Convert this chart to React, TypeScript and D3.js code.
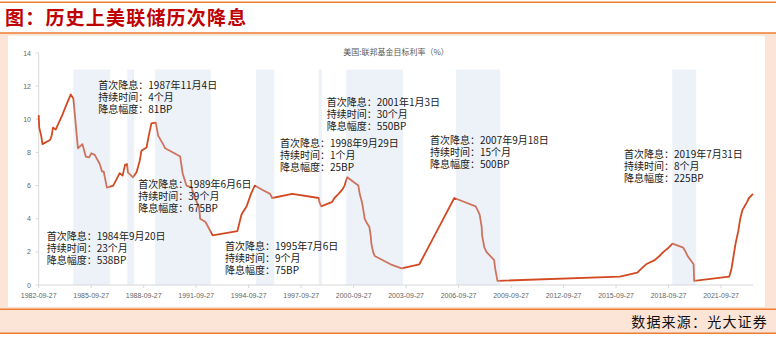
import React from "react";
import * as d3 from "d3";

// Fed funds target rate change points (date, %)
const rateDates = [
  "1982-09-27", "1982-10-08", "1982-11-19", "1982-12-14", "1983-05-20", "1983-06-24",
  "1983-07-22", "1983-09-16", "1984-02-01", "1984-05-01", "1984-07-27", "1984-09-20",
  "1984-12-24", "1985-03-28", "1985-06-06", "1985-08-15", "1985-10-01", "1985-12-10",
  "1986-03-25", "1986-05-10", "1986-06-15", "1986-08-21", "1986-12-31", "1987-05-15",
  "1987-07-15", "1987-09-04", "1987-10-15", "1987-11-04", "1988-02-15", "1988-04-30",
  "1988-07-07", "1988-08-10", "1988-11-25", "1989-01-10", "1989-03-07", "1989-06-06",
  "1989-07-27", "1989-08-28", "1989-11-06", "1989-12-20", "1990-06-01", "1990-10-29",
  "1990-12-18", "1991-03-08", "1991-06-20", "1991-08-30", "1991-11-25", "1991-12-20",
  "1992-04-09", "1992-09-04", "1994-02-04", "1994-05-01", "1994-08-16", "1994-11-15",
  "1995-02-01", "1995-07-06", "1995-12-19", "1996-01-31", "1997-03-25", "1998-09-29",
  "1998-10-15", "1998-11-17", "1999-06-30", "1999-08-24", "1999-11-16", "2000-02-02",
  "2000-03-21", "2000-05-16", "2001-01-03", "2001-01-31", "2001-03-20", "2001-04-18",
  "2001-05-15", "2001-06-27", "2001-08-21", "2001-09-17", "2001-10-02", "2001-11-06",
  "2001-12-11", "2002-11-06", "2003-06-25", "2004-06-30", "2005-06-30", "2006-06-29",
  "2007-09-18", "2007-10-31", "2007-12-11", "2008-01-22", "2008-01-30", "2008-03-18",
  "2008-04-30", "2008-10-08", "2008-10-29", "2008-12-16", "2015-12-16", "2016-12-14",
  "2017-03-15", "2017-06-14", "2017-12-13", "2018-03-21", "2018-06-13", "2018-09-26",
  "2018-12-19", "2019-07-31", "2019-09-18", "2019-10-30", "2020-03-03", "2020-03-15",
  "2022-03-16", "2022-05-04", "2022-06-15", "2022-07-27", "2022-09-21", "2022-11-02",
  "2022-12-14", "2023-02-01", "2023-03-22", "2023-05-03", "2023-07-26",
];
const rateValues = [
  10.25, 9.5, 9.0, 8.5, 8.75, 9.0,
  9.5, 9.375, 10.25, 10.9, 11.5, 11.25,
  8.25, 8.5, 7.75, 7.7, 7.95, 7.85,
  7.3, 6.85, 6.85, 5.875, 6.0, 6.75,
  6.6, 7.25, 7.3, 6.8, 6.5, 6.8,
  7.5, 8.1, 8.3, 9.0, 9.75, 9.8,
  9.0, 8.85, 8.5, 8.25, 8.0, 7.75,
  6.75, 6.0, 5.9, 5.25, 4.75, 4.0,
  3.8, 3.0, 3.25, 4.25, 4.75, 5.5,
  6.0, 5.75, 5.5, 5.25, 5.5, 5.25,
  5.0, 4.75, 5.0, 5.25, 5.5, 5.75,
  6.0, 6.5, 6.0, 5.5, 5.0, 4.5,
  4.0, 3.75, 3.5, 3.0, 2.5, 2.0,
  1.75, 1.25, 1.0, 1.25, 3.25, 5.25,
  4.75, 4.5, 4.25, 3.5, 3.0, 2.25,
  2.0, 1.5, 1.0, 0.25, 0.5, 0.75,
  1.0, 1.25, 1.5, 1.75, 2.0, 2.25,
  2.5, 2.25, 2.0, 1.75, 1.25, 0.25,
  0.5, 1.0, 1.75, 2.5, 3.25, 4.0,
  4.5, 4.75, 5.0, 5.25, 5.5,
];

// Rate-cut cycle bands
const bandStarts = ["1984-09-20", "1987-10-20", "1989-05-22", "1995-03-01", "1998-09-27", "2000-04-25", "2006-08-04", "2018-12-13"];
const bandEnds = ["1986-10-25", "1988-03-10", "1992-07-26", "1996-03-13", "1998-12-05", "2003-07-24", "2009-02-13", "2020-04-26"];
const bandTop = 13;

// Axis ticks
const xTickLabels = [
  "1982-09-27", "1985-09-27", "1988-09-27", "1991-09-27", "1994-09-27", "1997-09-27", "2000-09-27",
  "2003-09-27", "2006-09-27", "2009-09-27", "2012-09-27", "2015-09-27", "2018-09-27", "2021-09-27",
];
const yTicks = [0, 2, 4, 6, 8, 10, 12, 14];

// Annotations
const cutFirst = ["1984年9月20日", "1987年11月4日", "1989年6月6日", "1995年7月6日", "1998年9月29日", "2001年1月3日", "2007年9月18日", "2019年7月31日"];
const cutMonths = [23, 4, 39, 9, 1, 30, 15, 8];
const cutBP = [538, 81, 675, 75, 25, 550, 500, 225];

// layout of annotation blocks (pixel left, first-line center)
const noteLayout = [
  [46.7, 236], [98.3, 85], [138.3, 184.3], [225, 246], [280, 142.7], [326.7, 101.7], [430, 140], [624, 154.3],
];

const W = 776;
const H = 339;
const CJK = '"Noto Sans CJK SC", "Noto Sans", sans-serif';
const AX = '"Liberation Sans", Arial, sans-serif';
const ORANGE = "#ed7d31";
const PEACH = "#fce4d6";

export default function App() {
  const parse = d3.timeParse("%Y-%m-%d");
  const x = d3
    .scaleTime()
    .domain([parse("1982-09-27") as Date, parse("2023-07-26") as Date])
    .range([38.7, 753]);
  const y = d3.scaleLinear().domain([0, 14]).range([285, 53]);

  const pts: [Date, number][] = rateDates.map((d, i) => [parse(d) as Date, rateValues[i]]);
  const line = d3
    .line<[Date, number]>()
    .x((d) => x(d[0]))
    .y((d) => y(d[1]));

  const [x0, x1] = x.range();

  return (
    <div style={{ position: "absolute", left: 0, top: 0, width: W, height: H, background: "#fff" }}>
      <svg width={W} height={H} viewBox={`0 0 ${W} ${H}`} style={{ display: "block" }}>
        <rect x={0} y={0} width={W} height={H} fill="#fff" />
        {/* frame */}
        <line x1={0} x2={W} y1={2.2} y2={2.2} stroke={ORANGE} strokeWidth={1.4} />
        <text x={5} y={25} fontFamily={CJK} fontSize={19} fontWeight="bold" fill="#c00000" letterSpacing={1.2}>
          图：历史上美联储历次降息
        </text>
        <rect x={0} y={33} width={W} height={276.3} fill={PEACH} />
        <line x1={0} x2={W} y1={33} y2={33} stroke={ORANGE} strokeWidth={1.4} />
        <rect x={8} y={35.7} width={757} height={271} fill="#fff" />
        <rect x={0} y={309.3} width={W} height={24} fill={PEACH} />
        <line x1={0} x2={W} y1={309.3} y2={309.3} stroke={ORANGE} strokeWidth={1.4} />
        <line x1={0} x2={W} y1={333.3} y2={333.3} stroke={ORANGE} strokeWidth={1.4} />
        <text x={768} y={326.5} textAnchor="end" fontFamily={CJK} fontSize={14} fill="#111" letterSpacing={1.2}>
          数据来源：光大证券
        </text>

        {/* chart title */}
        <text x={396} y={54.5} textAnchor="middle" fontFamily={CJK} fontSize={8} fill="#595959">
          美国:联邦基金目标利率（%）
        </text>

        {/* axes */}
        <line x1={x0} x2={x0} y1={y(14)} y2={y(0)} stroke="#d9d9d9" strokeWidth={1} />
        <line x1={x0} x2={x1} y1={y(0)} y2={y(0)} stroke="#d9d9d9" strokeWidth={1} />
        {yTicks.map((t) => (
          <g key={t}>
            <line x1={x0 - 3} x2={x0} y1={y(t)} y2={y(t)} stroke="#d9d9d9" />
            <text x={31} y={y(t) + 2.5} textAnchor="end" fontFamily={AX} fontSize={7} fill="#666">
              {t}
            </text>
          </g>
        ))}
        {xTickLabels.map((s) => {
          const px = x(parse(s) as Date);
          return (
            <g key={s}>
              <line x1={px} x2={px} y1={y(0)} y2={y(0) + 3} stroke="#d9d9d9" />
              <text x={px} y={297.5} textAnchor="middle" fontFamily={AX} fontSize={7} fill="#666">
                {s}
              </text>
            </g>
          );
        })}

        {/* series */}
        <path d={line(pts) || ""} fill="none" stroke="#d34a22" strokeWidth={1.8} strokeLinejoin="round" />

        {/* shaded cut cycles (translucent overlay) */}
        {bandStarts.map((s, i) => {
          const a = x(parse(s) as Date);
          const b = x(parse(bandEnds[i]) as Date);
          return (
            <rect key={s} x={a} y={y(bandTop)} width={b - a} height={y(0) - y(bandTop)} fill="#c5d5ea" fillOpacity={0.3} />
          );
        })}

        {/* annotations */}
        {cutFirst.map((f, i) => {
          const [lx, ly] = noteLayout[i];
          const lines = [`首次降息：${f}`, `持续时间：${cutMonths[i]}个月`, `降息幅度：${cutBP[i]}BP`];
          return (
            <g key={f}>
              {lines.map((t, j) => (
                <text key={j} x={lx} y={ly + j * 12 + 3.8} fontFamily={CJK} fontSize={10} fill="#1a1a1a">
                  {t}
                </text>
              ))}
            </g>
          );
        })}
      </svg>
    </div>
  );
}
